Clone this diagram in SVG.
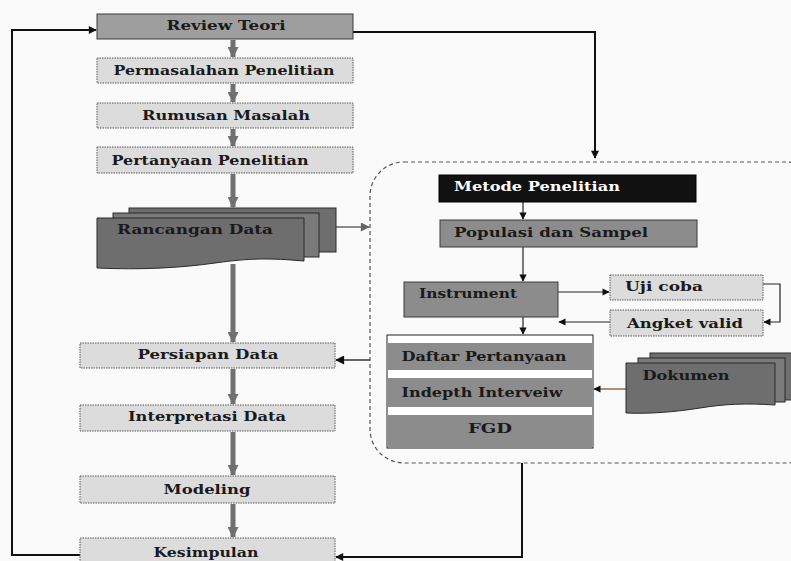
<svg xmlns="http://www.w3.org/2000/svg" width="791" height="561" viewBox="0 0 791 561">
<defs>
<style>
.t{font-family:"DejaVu Serif","Liberation Serif",serif;font-weight:bold;font-size:13px;fill:#1a1a1a;text-anchor:middle}
.tw{fill:#ffffff}
.light{fill:#dcdcdc;stroke:#5a5a5a;stroke-width:1;stroke-dasharray:1.5 1}
.mid{fill:#8c8c8c;stroke:#3a3a3a;stroke-width:1}
.dark{fill:#9e9e9e;stroke:#3a3a3a;stroke-width:1}
.doc{fill:#6e6e6e;stroke:#2a2a2a;stroke-width:1}
.doc2{fill:#7a7a7a;stroke:#2a2a2a;stroke-width:1}
.gline{stroke:#707070;stroke-width:5;fill:none}
.bline{stroke:#111;stroke-width:2;fill:none}
.tline{stroke:#222;stroke-width:1.2;fill:none}
</style>
<marker id="ga" viewBox="0 0 10 10" refX="9" refY="5" markerWidth="2.6" markerHeight="2.2" orient="auto" markerUnits="strokeWidth"><path d="M0,0 L10,5 L0,10 z" fill="#707070"/></marker>
<marker id="ba" viewBox="0 0 10 10" refX="9" refY="5" markerWidth="5" markerHeight="4" orient="auto" markerUnits="strokeWidth"><path d="M0,0 L10,5 L0,10 z" fill="#111"/></marker>
<marker id="ta" viewBox="0 0 10 10" refX="9" refY="5" markerWidth="8" markerHeight="6" orient="auto" markerUnits="strokeWidth"><path d="M0,0 L10,5 L0,10 z" fill="#111"/></marker>
<marker id="gta" viewBox="0 0 10 10" refX="9" refY="5" markerWidth="8" markerHeight="6" orient="auto" markerUnits="strokeWidth"><path d="M0,0 L10,5 L0,10 z" fill="#666"/></marker>
</defs>
<rect x="0" y="0" width="791" height="561" fill="#fafafa"/>

<!-- dashed region -->
<rect id="region" x="370" y="162" width="450" height="301" rx="34" ry="34" fill="none" stroke="#555" stroke-width="1.2" stroke-dasharray="4 3"/>

<g id="connectors">
<!-- gray main flow -->
<line class="gline" x1="233" y1="40" x2="233" y2="57" marker-end="url(#ga)"/>
<line class="gline" x1="233" y1="84" x2="233" y2="102" marker-end="url(#ga)"/>
<line class="gline" x1="233" y1="129" x2="233" y2="146" marker-end="url(#ga)"/>
<line class="gline" x1="233" y1="174" x2="233" y2="207" marker-end="url(#ga)"/>
<line class="gline" x1="233" y1="264" x2="233" y2="342" marker-end="url(#ga)"/>
<line class="gline" x1="233" y1="369" x2="233" y2="404" marker-end="url(#ga)"/>
<line class="gline" x1="233" y1="432" x2="233" y2="475" marker-end="url(#ga)"/>
<line class="gline" x1="233" y1="504" x2="233" y2="537" marker-end="url(#ga)"/>
<!-- loops -->
<polyline class="bline" points="80,555 12,555 12,30 96,30" marker-end="url(#ba)"/>
<polyline class="bline" points="353,32 595,32 595,158" marker-end="url(#ba)"/>
<polyline class="bline" points="522,463 522,557 336,557" marker-end="url(#ba)"/>
<!-- region links -->
<line x1="336" y1="227" x2="369" y2="227" stroke="#666" stroke-width="1.5" marker-end="url(#gta)"/>
<line x1="370" y1="360" x2="336" y2="360" stroke="#333" stroke-width="1.5" marker-end="url(#ta)"/>
<!-- inside region -->
<line class="tline" x1="523" y1="202" x2="523" y2="219" marker-end="url(#ta)"/>
<line class="tline" x1="523" y1="247" x2="523" y2="281" marker-end="url(#ta)"/>
<line class="tline" x1="523" y1="317" x2="523" y2="334" marker-end="url(#ta)"/>
<line class="tline" x1="558" y1="292" x2="609" y2="292" marker-end="url(#ta)"/>
<line class="tline" x1="610" y1="322" x2="559" y2="322" marker-end="url(#ta)"/>
<polyline class="tline" points="763,284 780,284 780,322 764,322" marker-end="url(#ta)"/>
<line x1="626" y1="389" x2="594" y2="389" stroke="#6a4a2a" stroke-width="1.2" marker-end="url(#ta)"/>
</g>

<g id="review-teori">
<rect class="dark" x="97" y="14" width="256" height="25"/>
<text class="t" x="226" y="30" textLength="119" lengthAdjust="spacingAndGlyphs">Review Teori</text>
</g>
<g id="permasalahan">
<rect class="light" x="97" y="58" width="256" height="25"/>
<text class="t" x="224" y="75" textLength="221" lengthAdjust="spacingAndGlyphs">Permasalahan Penelitian</text>
</g>
<g id="rumusan">
<rect class="light" x="97" y="103" width="256" height="25"/>
<text class="t" x="226" y="120" textLength="168" lengthAdjust="spacingAndGlyphs">Rumusan Masalah</text>
</g>
<g id="pertanyaan">
<rect class="light" x="97" y="147" width="256" height="26"/>
<text class="t" x="210" y="165" textLength="197" lengthAdjust="spacingAndGlyphs">Pertanyaan Penelitian</text>
</g>
<g id="rancangan">
<rect class="doc" x="129" y="208" width="207" height="44"/>
<rect class="doc2" x="113" y="213" width="206" height="44"/>
<path class="doc" d="M97,218 H304 V261 C270,258 250,258 215,263 C180,268 140,270 97,268 Z"/>
<text class="t" x="195" y="234" textLength="156" lengthAdjust="spacingAndGlyphs">Rancangan Data</text>
</g>
<g id="persiapan">
<rect class="light" x="80" y="343" width="255" height="25"/>
<text class="t" x="208" y="359" textLength="141" lengthAdjust="spacingAndGlyphs">Persiapan  Data</text>
</g>
<g id="interpretasi">
<rect class="light" x="80" y="405" width="255" height="26"/>
<text class="t" x="207" y="421" textLength="158" lengthAdjust="spacingAndGlyphs">Interpretasi  Data</text>
</g>
<g id="modeling">
<rect class="light" x="80" y="476" width="255" height="27"/>
<text class="t" x="207" y="494" textLength="87" lengthAdjust="spacingAndGlyphs">Modeling</text>
</g>
<g id="kesimpulan">
<rect class="light" x="80" y="538" width="255" height="30"/>
<text class="t" x="206" y="557" textLength="105" lengthAdjust="spacingAndGlyphs">Kesimpulan</text>
</g>

<g id="metode">
<rect x="439" y="175" width="257" height="27" fill="#111" stroke="#000"/>
<text class="t tw" x="537" y="191" textLength="166" lengthAdjust="spacingAndGlyphs">Metode Penelitian</text>
</g>
<g id="populasi">
<rect class="mid" x="440" y="220" width="257" height="27"/>
<text class="t" x="551" y="237" textLength="194" lengthAdjust="spacingAndGlyphs">Populasi dan Sampel</text>
</g>
<g id="instrument">
<rect class="mid" x="404" y="282" width="154" height="35"/>
<text class="t" x="468" y="298" textLength="98" lengthAdjust="spacingAndGlyphs">Instrument</text>
</g>
<g id="uji-coba">
<rect class="light" x="610" y="275" width="153" height="25"/>
<text class="t" x="664" y="291" textLength="78" lengthAdjust="spacingAndGlyphs">Uji coba</text>
</g>
<g id="angket-valid">
<rect class="light" x="610" y="310" width="153" height="26"/>
<text class="t" x="685" y="328" textLength="116" lengthAdjust="spacingAndGlyphs">Angket valid</text>
</g>
<g id="teknik">
<rect x="387" y="335" width="206" height="113" fill="#ffffff" stroke="#222" stroke-width="1"/>
<rect x="388" y="343" width="204" height="27" fill="#8c8c8c"/>
<text class="t" x="484" y="361" textLength="165" lengthAdjust="spacingAndGlyphs">Daftar Pertanyaan</text>
<rect x="388" y="378" width="204" height="29" fill="#8c8c8c"/>
<text class="t" x="482" y="397" textLength="161" lengthAdjust="spacingAndGlyphs">Indepth Interveiw</text>
<rect x="388" y="415" width="204" height="33" fill="#8c8c8c"/>
<text class="t" x="490" y="433" textLength="44" lengthAdjust="spacingAndGlyphs">FGD</text>
</g>
<g id="dokumen">
<rect class="doc" x="650" y="353" width="150" height="47"/>
<rect class="doc2" x="638" y="358" width="147" height="44"/>
<path class="doc" d="M626,363 H775 V405 C745,403 725,404 700,408 C675,412 650,414 626,413 Z"/>
<text class="t" x="686" y="380" textLength="87" lengthAdjust="spacingAndGlyphs">Dokumen</text>
</g>
</svg>
